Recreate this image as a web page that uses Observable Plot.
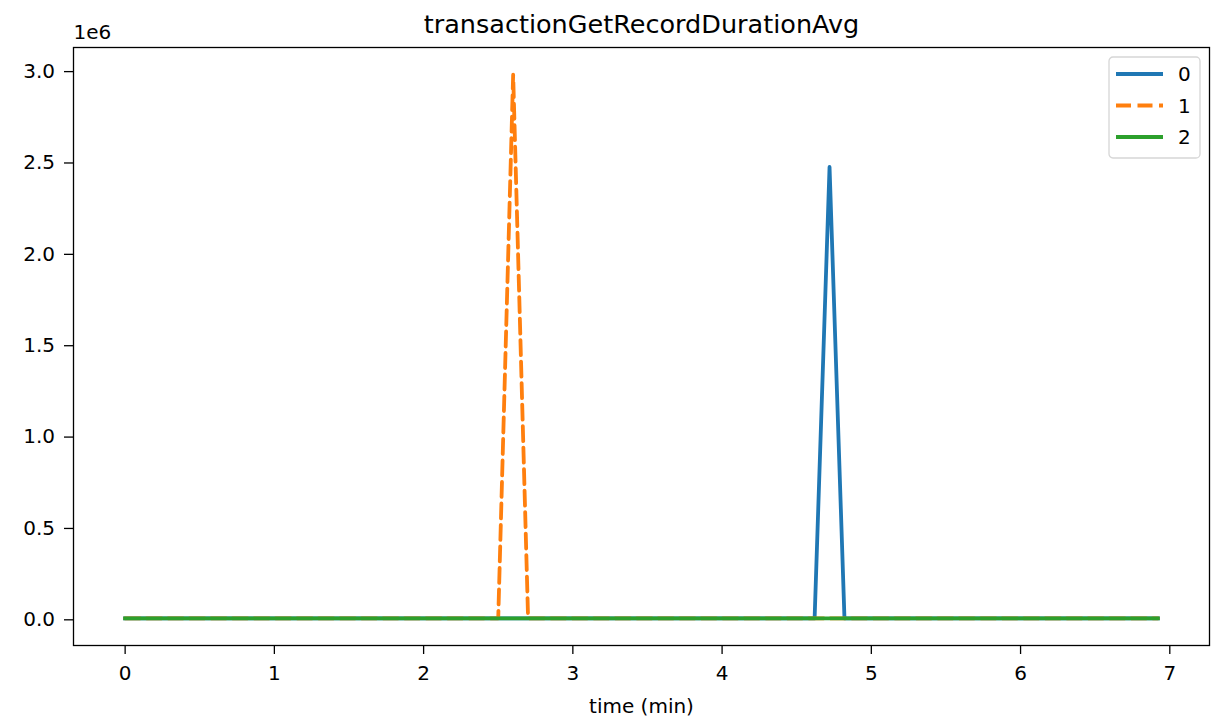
<!DOCTYPE html>
<html>
<head>
<meta charset="utf-8">
<script src="https://cdn.jsdelivr.net/npm/d3@7"></script>
<script src="https://cdn.jsdelivr.net/npm/@observablehq/plot@0.6"></script>
<style>
  html, body { margin: 0; padding: 0; background: #fff; }
  #wrap { position: relative; width: 1211px; height: 721px; font-family: "DejaVu Sans", sans-serif; }
  #legend { position: absolute; left: 1108px; top: 56px; }
</style>
</head>
<body>
<div id="wrap"></div>
<script>
// ---- data ----
const title = "transactionGetRecordDurationAvg";
const xLabel = "time (min)";
const seriesNames = ["0", "1", "2"];
const seriesColors = ["#1f77b4", "#ff7f0e", "#2ca02c"];

const time0 = [0, 4.62, 4.72, 4.82, 6.92];
const value0 = [0, 0, 2.47e6, 0, 0];
const time1 = [0, 2.50, 2.60, 2.70, 6.92];
const value1 = [0, 0, 2.975e6, 0, 0];
const time2 = [0, 6.92];
const value2 = [0, 0];

const xTicks = [0, 1, 2, 3, 4, 5, 6, 7];
const yTicks = [0, 0.5e6, 1.0e6, 1.5e6, 2.0e6, 2.5e6, 3.0e6];

const toRows = (t, v) => t.map((x, i) => ({x, y: v[i]}));
const rows0 = toRows(time0, value0);
const rows1 = toRows(time1, value1);
const rows2 = toRows(time2, value2);

// matplotlib-like 5% margins
const xmin = 0, xmax = 6.92, ymin = 0, ymax = 2.975e6;
const xpad = (xmax - xmin) * 0.05, ypad = (ymax - ymin) * 0.05;

const fs = 20;
const lw = 3.8;
const plot = Plot.plot({
  width: 1211,
  height: 721,
  marginLeft: 73,
  marginRight: 2,
  marginTop: 47,
  marginBottom: 76,
  style: {fontFamily: "DejaVu Sans, sans-serif", fontSize: fs + "px", color: "#000", background: "#fff"},
  x: {domain: [xmin - xpad, xmax + xpad], ticks: xTicks, tickFormat: d => String(d), label: null},
  y: {domain: [ymin - ypad, ymax + ypad], ticks: yTicks, tickFormat: d => (d / 1e6).toFixed(1), label: null},
  marks: [
    Plot.axisX({ticks: xTicks, tickFormat: d => String(d), tickSize: 9, tickPadding: 11, strokeWidth: 1.3, label: null, fontSize: fs}),
    Plot.axisY({ticks: yTicks, tickFormat: d => (d / 1e6).toFixed(1), tickSize: 9, tickPadding: 9.5, strokeWidth: 1.3, label: null, fontSize: fs, dy: 1.5}),
    Plot.line(rows0, {x: "x", y: "y", stroke: seriesColors[0], strokeWidth: lw, strokeLinejoin: "round", strokeLinecap: "square"}),
    Plot.line(rows1, {x: "x", y: "y", stroke: seriesColors[1], strokeWidth: lw, strokeDasharray: "15,6.5", strokeLinejoin: "round"}),
    Plot.line(rows2, {x: "x", y: "y", stroke: seriesColors[2], strokeWidth: lw, strokeLinecap: "square"}),
    Plot.frame({stroke: "#000", strokeWidth: 1.3}),
    Plot.text([title], {frameAnchor: "top", lineAnchor: "bottom", dy: -15, fontSize: 25.5, text: d => d}),
    Plot.text(["1e6"], {frameAnchor: "top-left", lineAnchor: "bottom", dy: -9, textAnchor: "start", fontSize: fs, text: d => d}),
    Plot.text([xLabel], {frameAnchor: "bottom", lineAnchor: "bottom", dy: 67, fontSize: fs, text: d => d})
  ]
});
document.getElementById("wrap").appendChild(plot);

// legend (matplotlib-style box, upper right)
const lg = d3.select("#wrap").append("svg").attr("id", "legend")
  .attr("width", 93).attr("height", 103);
lg.append("rect").attr("x", 1).attr("y", 1).attr("width", 91).attr("height", 101)
  .attr("rx", 4).attr("fill", "#fff").attr("fill-opacity", 0.8).attr("stroke", "#d6d6d6").attr("stroke-width", 1.3);
seriesNames.forEach((name, i) => {
  const y = 18 + i * 31.5;
  lg.append("line").attr("x1", 8).attr("x2", 55).attr("y1", y).attr("y2", y)
    .attr("stroke", seriesColors[i]).attr("stroke-width", lw)
    .attr("stroke-dasharray", i === 1 ? "15,6.5" : null);
  lg.append("text").attr("x", 70).attr("y", y).attr("dy", "0.35em")
    .attr("font-family", "DejaVu Sans, sans-serif").attr("font-size", fs).text(name);
});
</script>
</body>
</html>
